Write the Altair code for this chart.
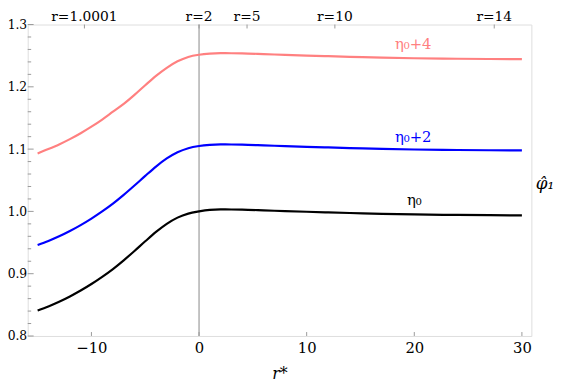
import altair as alt
import pandas as pd

# ---- data ----
r_star = [-15, -14, -13, -12, -11, -10, -9, -8, -7, -6, -5, -4, -3, -2, -1,
          0, 1, 2, 3, 4, 6, 8, 10, 12, 14, 17, 20, 24, 27, 30]
eta0 = [0.841, 0.8475, 0.855, 0.8635, 0.873, 0.8835, 0.895, 0.9075, 0.9215, 0.9365,
        0.952, 0.967, 0.980, 0.990, 0.9965, 1.000, 1.0024, 1.0032, 1.0031, 1.0028,
        1.0017, 1.0005, 0.9994, 0.9984, 0.9974, 0.996, 0.9951, 0.9943, 0.9939, 0.9936]
eta0_p2 = [0.946, 0.9525, 0.960, 0.9685, 0.978, 0.9885, 1.000, 1.0125, 1.0265, 1.0415,
           1.057, 1.072, 1.085, 1.095, 1.1015, 1.105, 1.1068, 1.1075, 1.1074, 1.1071,
           1.106, 1.1048, 1.1037, 1.1027, 1.1017, 1.1003, 1.0994, 1.0986, 1.0982, 1.0979]
eta0_p4 = [1.093, 1.100, 1.1075, 1.116, 1.1255, 1.136, 1.1475, 1.160, 1.1725, 1.187,
           1.2025, 1.2175, 1.2305, 1.241, 1.248, 1.2515, 1.2533, 1.254, 1.2539, 1.2536,
           1.2525, 1.2513, 1.2502, 1.2492, 1.2482, 1.2468, 1.2459, 1.2451, 1.2447, 1.2444]

series_names = ["η₀+4", "η₀+2", "η₀"]
series_colors = ["#FF8080", "#0000FF", "#000000"]
label_x = [19.9, 19.9, 20.0]
label_y = [1.268, 1.120, 1.018]

y_ticks = [0.8, 0.9, 1.0, 1.1, 1.2, 1.3]
y_minor = [0.82, 0.84, 0.86, 0.88, 0.92, 0.94, 0.96, 0.98, 1.02, 1.04, 1.06, 1.08,
           1.12, 1.14, 1.16, 1.18, 1.22, 1.24, 1.26, 1.28]
x_ticks = [-10, 0, 10, 20, 30]
top_pos = [-10.65, 0, 4.46, 12.62, 27.43]
top_labels = ["r=1.0001", "r=2", "r=5", "r=10", "r=14"]

X_DOMAIN = [-15.92, 30.88]
Y_DOMAIN = [0.8, 1.3]
W, H = 511, 316
FONT = "DejaVu Serif"
FRAME = "#999999"

# ---- tables ----
curves = pd.concat([
    pd.DataFrame({"x": r_star, "y": vals, "s": name})
    for name, vals in zip(series_names, [eta0_p4, eta0_p2, eta0])
])
labels_df = pd.DataFrame({"x": label_x, "y": label_y, "s": series_names})
ymaj_df = pd.DataFrame({"y": y_ticks})
ymin_df = pd.DataFrame({"y": y_minor})
xt_df = pd.DataFrame({"x": x_ticks})
top_df = pd.DataFrame({"x": top_pos, "t": top_labels})
zero_df = pd.DataFrame({"x": [0]})

xscale = alt.Scale(domain=X_DOMAIN, nice=False, zero=False)
yscale = alt.Scale(domain=Y_DOMAIN, nice=False, zero=False)
cscale = alt.Scale(domain=series_names, range=series_colors)

x_axis = alt.Axis(values=x_ticks, ticks=False, domain=False, grid=False,
                  labelFont=FONT, labelFontSize=15, labelPadding=5, labelColor="black",
                  title="r*", titleFont=FONT, titleFontStyle="italic",
                  titleFontWeight="normal", titleFontSize=16, titleColor="black",
                  titleY=43, titleBaseline="alphabetic")
y_axis = alt.Axis(values=y_ticks, format=".1f", ticks=False, domain=False, grid=False,
                  labelFont=FONT, labelFontSize=12.5, labelPadding=1, labelColor="black",
                  title="φ̂₁", titleFont=FONT, titleFontStyle="italic",
                  titleFontWeight="normal", titleFontSize=17, titleColor="black",
                  titleAngle=0, titleX=515, titleY=166, titleAlign="left",
                  titleBaseline="alphabetic")

X = alt.X("x:Q", scale=xscale, axis=x_axis)
Y = alt.Y("y:Q", scale=yscale, axis=y_axis)

lines = alt.Chart(curves).mark_line(strokeWidth=2.2, interpolate="monotone").encode(
    x=X, y=Y,
    color=alt.Color("s:N", scale=cscale, legend=None),
    detail="s:N",
)

zero_line = alt.Chart(zero_df).mark_rule(color="#888888", strokeWidth=1).encode(x=X)

ymaj = alt.Chart(ymaj_df).mark_rule(color=FRAME, strokeWidth=1).encode(
    y=Y, x=alt.value(0), x2=alt.value(6)
)
ymin = alt.Chart(ymin_df).mark_rule(color=FRAME, strokeWidth=1).encode(
    y=Y, x=alt.value(0), x2=alt.value(3.5)
)
xt = alt.Chart(xt_df).mark_rule(color=FRAME, strokeWidth=1).encode(
    x=X, y=alt.value(H), y2=alt.value(H - 4)
)
topt = alt.Chart(top_df).mark_rule(color=FRAME, strokeWidth=1).encode(
    x=X, y=alt.value(0), y2=alt.value(4)
)
topl = alt.Chart(top_df).mark_text(font=FONT, fontSize=14, color="black",
                                   baseline="alphabetic", align="center").encode(
    x=X, y=alt.value(-4), text="t:N"
)
curve_labels = alt.Chart(labels_df).mark_text(font=FONT, fontSize=15,
                                              baseline="middle", align="center").encode(
    x=X, y=Y, text="s:N",
    color=alt.Color("s:N", scale=cscale, legend=None),
)

chart = alt.layer(zero_line, ymaj, ymin, xt, topt, topl, lines, curve_labels).properties(
    width=W, height=H,
    autosize=alt.AutoSizeParams(type="none"),
    padding={"left": 20, "top": 14, "right": 26, "bottom": 50},
).configure_view(stroke=FRAME, strokeWidth=1).configure(background="white")

chart.save("out.html", embed_options={"renderer": "svg", "actions": False})
